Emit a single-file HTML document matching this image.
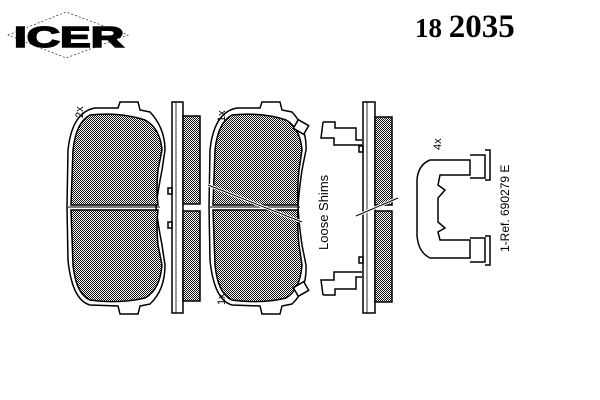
<!DOCTYPE html>
<html><head><meta charset="utf-8"><style>
html,body{margin:0;padding:0;background:#fff;}
svg{display:block}
</style></head><body>
<svg width="600" height="400" viewBox="0 0 600 400" xmlns="http://www.w3.org/2000/svg">
<defs>
<pattern id="h" width="2" height="2" patternUnits="userSpaceOnUse">
<rect width="2" height="2" fill="#fff"/>
<rect x="0" y="0" width="1" height="1" fill="#111"/>
<rect x="1" y="1" width="1" height="1" fill="#111"/>
</pattern>
</defs>
<!-- logo -->
<polygon points="8,35 66,12 128,35 66,58" fill="none" stroke="#000" stroke-width="0.6" stroke-dasharray="2,2"/>
<text x="14" y="47" font-family="Liberation Sans, sans-serif" font-weight="bold" font-size="29" textLength="110" lengthAdjust="spacingAndGlyphs" stroke="#000" stroke-width="1.5">ICER</text>
<text x="415" y="37" font-family="Liberation Serif, serif" font-weight="bold" font-size="27">18 <tspan font-size="33">2035</tspan></text>

<g stroke="#000" stroke-width="1.5" fill="none">
<!-- pad 1 -->
<path d="M120,102 L138,102 L140,110 L150,112 Q165,128 165,150 L162,170 Q158,190 156,207 Q158,225 162,245 L165,265 Q165,290 150,304 L140,306 L138,314 L120,314 L118,306 L90,305 Q72,300 68,260 L67,207 L68,150 Q72,112 95,108 L118,108 Z"/>
<path d="M90,115 Q76,122 73,150 L71,205 L158,205 Q156,190 158,170 L162,150 Q160,128 145,120 Q120,112 90,115 Z" fill="url(#h)"/>
<path d="M71,210 L158,210 Q156,225 158,245 L162,265 Q160,290 145,298 Q120,304 90,300 Q76,294 73,265 Z" fill="url(#h)"/>
<line x1="68" y1="207" x2="160" y2="207" stroke-width="1"/>
<!-- side 1 -->
<rect x="172" y="102" width="11" height="211" fill="#fff"/>
<line x1="176" y1="102" x2="176" y2="313" stroke-width="0.8"/>
<rect x="183" y="116" width="17" height="88" fill="url(#h)"/>
<rect x="183" y="211" width="17" height="90" fill="url(#h)"/>
<rect x="168" y="188" width="4" height="6"/>
<rect x="168" y="222" width="4" height="6"/>
<!-- pad 2 -->
<path d="M262,102 L280,102 L282,110 L292,112 Q307,128 306,150 L302,170 Q299,190 298,207 Q299,225 302,245 L306,265 Q307,290 292,304 L282,306 L280,314 L262,314 L260,306 L232,305 Q214,300 210,260 L209,207 L210,150 Q214,112 237,108 L260,108 Z"/>
<path d="M232,115 Q218,122 215,150 L213,205 L298,205 Q297,190 299,170 L302,150 Q300,128 286,120 Q262,112 232,115 Z" fill="url(#h)"/>
<path d="M213,210 L298,210 Q297,225 299,245 L302,265 Q300,290 286,298 Q262,304 232,300 Q218,294 215,265 Z" fill="url(#h)"/>
<line x1="210" y1="207" x2="300" y2="207" stroke-width="1"/>
<rect x="295" y="122" width="12" height="10" transform="rotate(30 301 127)" fill="#fff"/>
<rect x="295" y="284" width="12" height="10" transform="rotate(-30 301 289)" fill="#fff"/>
<line x1="208" y1="185" x2="302" y2="222" stroke="#fff" stroke-width="3"/>
<line x1="208" y1="185" x2="302" y2="222" stroke-width="1"/>
<!-- side 2 -->
<path d="M323,122 L335,122 L335,128 L356,128 L356,140 L362,140 M323,122 L321,138 L334,138 L334,145 L362,145"/>
<path d="M323,295 L335,295 L335,289 L356,289 L356,277 L362,277 M323,295 L321,280 L334,280 L334,272 L362,272"/>
<rect x="363" y="102" width="12" height="211" fill="#fff"/>
<line x1="367" y1="102" x2="367" y2="313" stroke-width="0.8"/>
<rect x="375" y="117" width="17" height="88" fill="url(#h)"/>
<rect x="375" y="211" width="17" height="91" fill="url(#h)"/>
<rect x="359" y="146" width="4" height="6"/>
<rect x="359" y="257" width="4" height="6"/>
<line x1="356" y1="216" x2="398" y2="198" stroke="#fff" stroke-width="3"/>
<line x1="356" y1="216" x2="398" y2="198" stroke-width="1"/>
<!-- clip -->
<path d="M445,160 L470,160 L470,175 L445,175 M445,240 L470,240 L470,258 L445,258"/>
<path d="M470,155 L485,155 L485,178 L470,178 M470,238 L485,238 L485,262 L470,262"/>
<path d="M485,150 L490,150 L490,180 L485,180 M485,236 L490,236 L490,265 L485,265"/>
<path d="M445,160 L430,160 Q418,165 417,180 L417,235 Q418,252 430,258 L445,258"/>
<path d="M445,175 L440,175 L438,185 L445,190 L438,198 L438,222 L445,228 L438,232 L440,240 L445,240"/>
</g>
<g font-family="Liberation Sans, sans-serif" font-size="11" fill="#000">
<text transform="translate(83,118) rotate(-90)">2x</text>
<text transform="translate(225,122) rotate(-90)">1x</text>
<text transform="translate(225,305) rotate(-90)">1x</text>
<text transform="translate(328,250) rotate(-90)" font-size="13">Loose Shims</text>
<text transform="translate(441,150) rotate(-90)">4x</text>
<text transform="translate(509,252) rotate(-90)" font-size="12">1-Ref. 690279 E</text>
</g>
</svg>
</body></html>
